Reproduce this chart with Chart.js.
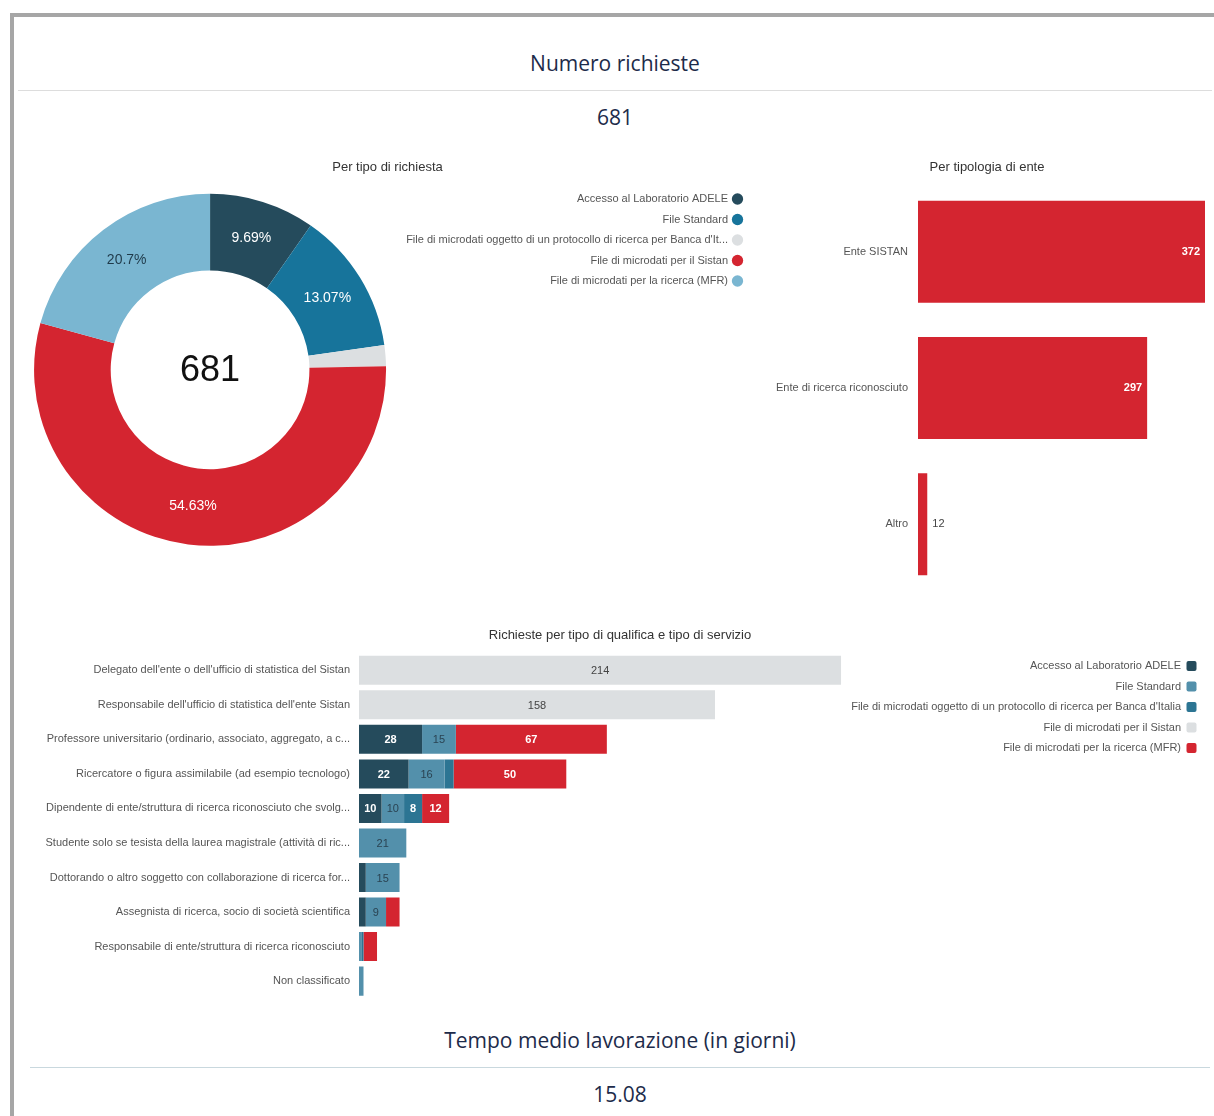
<!DOCTYPE html>
<html lang="it">
<head>
<meta charset="utf-8">
<title>Numero richieste</title>
<script src="https://cdn.jsdelivr.net/npm/chart.js@4.4.1/dist/chart.umd.min.js"></script>
<style>
  html, body { margin: 0; padding: 0; background: #fff; overflow: hidden; }
  body { width: 1214px; height: 1116px; position: relative; font-family: "Open Sans", sans-serif; }
  .frame { position: absolute; left: 10px; top: 13px; width: 1300px; height: 1200px;
           border: 4px solid #a6a6a6; box-sizing: border-box; }
  .head { position: absolute; text-align: center; color: #1d2b4a; font-size: 21px;
          line-height: 26px; height: 26px; }
  .rule { position: absolute; height: 1px; }
  canvas { position: absolute; }
</style>
</head>
<body>
<div class="frame"></div>

<div class="head" style="left:18px;width:1194px;top:50px;">Numero richieste</div>
<div class="rule" style="left:18px;width:1194px;top:90px;background:#dddddd;"></div>
<div class="head" style="left:18px;width:1194px;top:104px;">681</div>

<canvas id="tipoRichiesta" width="742" height="400" style="left:18px;top:154px;"></canvas>
<canvas id="tipoEnte" width="454" height="455" style="left:760px;top:154px;"></canvas>
<canvas id="qualifica" width="1180" height="392" style="left:30px;top:622px;"></canvas>

<div class="head" style="left:30px;width:1180px;top:1027px;">Tempo medio lavorazione (in giorni)</div>
<div class="rule" style="left:30px;width:1180px;top:1067px;background:#c9d8de;"></div>
<div class="head" style="left:30px;width:1180px;top:1081px;">15.08</div>

<script>
// tipi di servizio
const servizi = [
  "Accesso al Laboratorio ADELE",
  "File Standard",
  "File di microdati oggetto di un protocollo di ricerca per Banca d'Italia",
  "File di microdati per il Sistan",
  "File di microdati per la ricerca (MFR)"
];
const richiestePerServizio = [66, 89, 13, 372, 141];

// tipologia di ente
const tipiEnte = ["Ente SISTAN", "Ente di ricerca riconosciuto", "Altro"];
const richiestePerEnte = [372, 297, 12];

// qualifica x servizio
const qualifiche = [
  "Delegato dell'ente o dell'ufficio di statistica del Sistan",
  "Responsabile dell'ufficio di statistica dell'ente Sistan",
  "Professore universitario (ordinario, associato, aggregato, a c...",
  "Ricercatore o figura assimilabile (ad esempio tecnologo)",
  "Dipendente di ente/struttura di ricerca riconosciuto che svolg...",
  "Studente solo se tesista della laurea magistrale (attività di ric...",
  "Dottorando o altro soggetto con collaborazione di ricerca for...",
  "Assegnista di ricerca, socio di società scientifica",
  "Responsabile di ente/struttura di ricerca riconosciuto",
  "Non classificato"
];
const qAdele = [0, 0, 28, 22, 10, 0, 3, 3, 0, 0];
const qFileStandard = [0, 0, 15, 16, 10, 21, 15, 9, 1, 2];
const qBancaItalia = [0, 0, 0, 4, 8, 0, 0, 0, 1, 0];
const qSistan = [214, 158, 0, 0, 0, 0, 0, 0, 0, 0];
const qMfr = [0, 0, 67, 50, 12, 0, 0, 6, 6, 0];

const coloriTorta = ["#254b5c", "#17749b", "#dcdfe1", "#d42530", "#7ab6d1"];
const coloriServizi = ["#254b5c", "#5390ab", "#2c7593", "#dcdfe1", "#d42530"];
const rosso = "#d42530";

Chart.defaults.font.family = "'Liberation Sans', Arial, sans-serif";
Chart.defaults.font.size = 11;
Chart.defaults.color = "#555";
Chart.defaults.animation = false;

const titolo = (text, bottom) => ({
  display: true, text: text, color: "#333",
  font: { size: 13, weight: "normal" },
  padding: { top: 6, bottom: bottom }
});

// spazio vuoto sopra le voci della legenda
const spaziatura = top => ({ display: true, text: "", font: { size: 10 }, padding: { top: top, bottom: 0 } });

// etichette percentuali + totale al centro
const torteLabels = {
  id: "torteLabels",
  afterDatasetsDraw(chart) {
    const ctx = chart.ctx;
    const data = chart.data.datasets[0].data;
    const total = data.reduce((a, b) => a + b, 0);
    const colori = ["#fff", "#fff", "#333", "#fff", "#1f3a4a"];
    ctx.save();
    ctx.textAlign = "center";
    ctx.textBaseline = "middle";
    ctx.font = "14px 'Liberation Sans', Arial, sans-serif";
    chart.getDatasetMeta(0).data.forEach((arc, i) => {
      const pct = data[i] / total * 100;
      if (pct < 5) return;
      const p = arc.tooltipPosition();
      ctx.fillStyle = colori[i];
      ctx.fillText(parseFloat(pct.toFixed(2)) + "%", p.x, p.y);
    });
    const a = chart.chartArea;
    ctx.fillStyle = "#111";
    ctx.font = "36px 'Liberation Sans', Arial, sans-serif";
    ctx.fillText(String(total), (a.left + a.right) / 2, (a.top + a.bottom) / 2 + 1);
    ctx.restore();
  }
};

new Chart(document.getElementById("tipoRichiesta"), {
  type: "doughnut",
  data: {
    labels: servizi,
    datasets: [{ data: richiestePerServizio, backgroundColor: coloriTorta, borderWidth: 0 }]
  },
  options: {
    responsive: false,
    radius: 176,
    cutout: 104,
    layout: { padding: { left: 6, right: 9 } },
    plugins: {
      title: titolo("Per tipo di richiesta", 10),
      tooltip: { enabled: false },
      legend: {
        position: "right", align: "start", rtl: true, textDirection: "ltr",
        title: spaziatura(18),
        labels: {
          usePointStyle: true, pointStyle: "circle", boxWidth: 8, boxHeight: 8,
          padding: 9.5, color: "#555",
          generateLabels(chart) {
            const items = Chart.overrides.doughnut.plugins.legend.labels.generateLabels(chart);
            items.forEach(it => { if (it.text.length > 68) it.text = it.text.slice(0, 68) + "..."; });
            return items;
          }
        }
      }
    }
  },
  plugins: [torteLabels]
});

// valori sulle barre per ente
const enteLabels = {
  id: "enteLabels",
  afterDatasetsDraw(chart) {
    const ctx = chart.ctx;
    const data = chart.data.datasets[0].data;
    ctx.save();
    ctx.textBaseline = "middle";
    chart.getDatasetMeta(0).data.forEach((bar, i) => {
      if (bar.x - bar.base > 30) {
        ctx.font = "bold 11px 'Liberation Sans', Arial, sans-serif";
        ctx.fillStyle = "#fff";
        ctx.textAlign = "right";
        ctx.fillText(data[i], bar.x - 5, bar.y);
      } else {
        ctx.font = "11px 'Liberation Sans', Arial, sans-serif";
        ctx.fillStyle = "#444";
        ctx.textAlign = "left";
        ctx.fillText(data[i], bar.x + 5, bar.y);
      }
    });
    ctx.restore();
  }
};

new Chart(document.getElementById("tipoEnte"), {
  type: "bar",
  data: {
    labels: tipiEnte,
    datasets: [{ data: richiestePerEnte, backgroundColor: rosso, borderWidth: 0,
                 barPercentage: 0.75, categoryPercentage: 1 }]
  },
  options: {
    responsive: false,
    indexAxis: "y",
    layout: { padding: { left: 9, right: 9 } },
    scales: {
      x: { display: false, min: 0, max: Math.max(...richiestePerEnte) },
      y: {
        grid: { display: false, drawTicks: false },
        border: { display: false },
        ticks: { padding: 10, color: "#555" },
        afterFit: s => { s.width = 149; }
      }
    },
    plugins: {
      title: titolo("Per tipologia di ente", 8),
      legend: { display: false },
      tooltip: { enabled: false }
    }
  },
  plugins: [enteLabels]
});

// valori nei segmenti impilati
const stackLabels = {
  id: "stackLabels",
  afterDatasetsDraw(chart) {
    const ctx = chart.ctx;
    const stili = [
      ["#fff", "bold"], ["#2a4352", "normal"], ["#fff", "bold"], ["#444", "normal"], ["#fff", "bold"]
    ];
    ctx.save();
    ctx.textAlign = "center";
    ctx.textBaseline = "middle";
    chart.data.datasets.forEach((ds, d) => {
      chart.getDatasetMeta(d).data.forEach((bar, i) => {
        const v = ds.data[i];
        if (!v || bar.x - bar.base < 15) return;
        ctx.font = stili[d][1] + " 11px 'Liberation Sans', Arial, sans-serif";
        ctx.fillStyle = stili[d][0];
        ctx.fillText(v, (bar.x + bar.base) / 2, bar.y + 1);
      });
    });
    ctx.restore();
  }
};

const serieQualifica = [qAdele, qFileStandard, qBancaItalia, qSistan, qMfr];
const totaliQualifica = qualifiche.map((_, i) => serieQualifica.reduce((s, a) => s + a[i], 0));

new Chart(document.getElementById("qualifica"), {
  type: "bar",
  data: {
    labels: qualifiche,
    datasets: serieQualifica.map((vals, k) => ({
      label: servizi[k], data: vals, backgroundColor: coloriServizi[k], borderWidth: 0,
      barPercentage: 0.84, categoryPercentage: 1
    }))
  },
  options: {
    responsive: false,
    indexAxis: "y",
    layout: { padding: { left: 4, right: 4 } },
    scales: {
      x: { display: false, stacked: true, min: 0, max: Math.max(...totaliQualifica) },
      y: {
        stacked: true,
        grid: { display: false, drawTicks: false },
        border: { display: false },
        ticks: { padding: 9, color: "#555", autoSkip: false },
        afterFit: s => { s.width = 325; }
      }
    },
    plugins: {
      title: titolo("Richieste per tipo di qualifica e tipo di servizio", 9.4),
      tooltip: { enabled: false },
      legend: {
        position: "right", align: "start", rtl: true, textDirection: "ltr",
        maxWidth: 420,
        title: spaziatura(17),
        labels: { boxWidth: 10, boxHeight: 10, useBorderRadius: true, borderRadius: 2,
                  padding: 9.5, color: "#555" }
      }
    }
  },
  plugins: [stackLabels]
});
</script>
</body>
</html>
